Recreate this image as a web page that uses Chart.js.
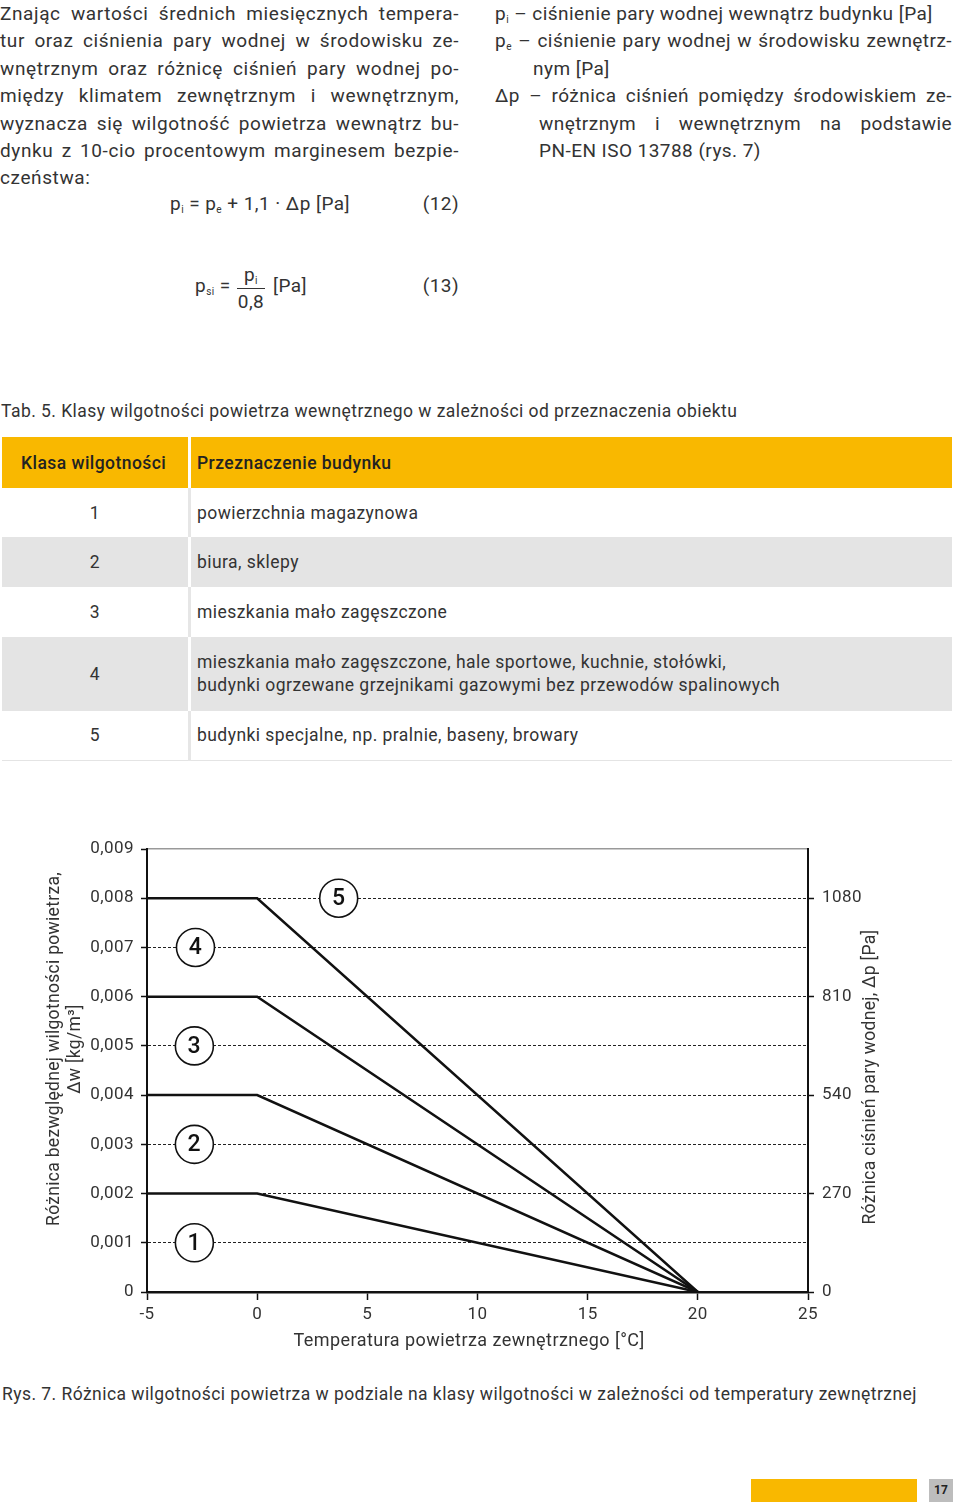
<!DOCTYPE html>
<html lang="pl">
<head>
<meta charset="utf-8">
<title>Rys. 7</title>
<script src="https://cdn.jsdelivr.net/npm/chart.js@4.4.1/dist/chart.umd.min.js"></script>
<style>
  html, body { margin: 0; padding: 0; background: #fff; }
  body { width: 960px; height: 1507px; position: relative; overflow: hidden;
         font-family: Roboto, "Noto Sans", sans-serif; color: #333; letter-spacing: 0.45px; }
  .abs { position: absolute; }
  .para { font-size: 19px; line-height: 27.4px; }
  .top { letter-spacing: 0.6px; }
  .just { text-align: justify; text-align-last: justify; }
  sub { font-size: 10px; vertical-align: -3px; line-height: 0; }
  .cap { font-size: 17.5px; line-height: 20px; }
  table { border-collapse: collapse; width: 950px; font-size: 17.5px; }
  td { padding: 0; vertical-align: middle; }
  td.n { width: 186px; text-align: center; border-right: 3px solid #e6e6e6; }
  td.t { padding-left: 6px; }
  tr.head td { background: #f9b800; color: #222; font-weight: 500; height: 51px; }
  tr.head td.n { border-right-color: #fff; text-align: left; padding-left: 19px; width: 167px; }
  tr.grey td { background: #e4e4e4; }
  tr.grey td.n { border-right-color: #fff; }
  tr.last td { border-bottom: 1px solid #e4e4e4; }
</style>
</head>
<body>

<div class="abs para top" style="left:0;top:0;width:459px;">
  <div class="just">Znając wartości średnich miesięcznych tempera-</div>
  <div class="just">tur oraz ciśnienia pary wodnej w środowisku ze-</div>
  <div class="just">wnętrznym oraz różnicę ciśnień pary wodnej po-</div>
  <div class="just">między klimatem zewnętrznym i wewnętrznym,</div>
  <div class="just">wyznacza się wilgotność powietrza wewnątrz bu-</div>
  <div class="just">dynku z 10-cio procentowym marginesem bezpie-</div>
  <div>czeństwa:</div>
</div>
<div class="abs para" style="left:170px;top:190px;">p<sub>i</sub> = p<sub>e</sub> + 1,1 · Δp [Pa]</div>
<div class="abs para" style="left:400px;top:190px;width:59px;text-align:right;">(12)</div>

<div class="abs para" style="left:495px;top:0;width:457px;">
  <div>p<sub>i</sub> – ciśnienie pary wodnej wewnątrz budynku [Pa]</div>
  <div class="just">p<sub>e</sub> – ciśnienie pary wodnej w środowisku zewnętrz-</div>
  <div style="padding-left:38px;">nym [Pa]</div>
  <div class="just">Δp – różnica ciśnień pomiędzy środowiskiem ze-</div>
  <div class="just" style="margin-left:44px;">wnętrznym i wewnętrznym na podstawie</div>
  <div style="padding-left:44px;">PN-EN ISO 13788 (rys. 7)</div>
</div>

<div class="abs para" style="left:195px;top:272px;">p<sub>si</sub> =</div>
<div class="abs para" style="left:237px;top:261px;width:28px;text-align:center;">p<sub>i</sub></div>
<div class="abs" style="left:237px;top:288px;width:28px;height:1px;background:#333;"></div>
<div class="abs para" style="left:235px;top:288px;width:32px;text-align:center;">0,8</div>
<div class="abs para" style="left:273px;top:272px;">[Pa]</div>
<div class="abs para" style="left:400px;top:272px;width:59px;text-align:right;">(13)</div>

<div class="abs cap" style="left:1px;top:401px;">Tab. 5. Klasy wilgotności powietrza wewnętrznego w zależności od przeznaczenia obiektu</div>

<table class="abs" style="left:2px;top:437px;">
  <tr class="head"><td class="n">Klasa wilgotności</td><td class="t">Przeznaczenie budynku</td></tr>
  <tr style="height:49px;"><td class="n">1</td><td class="t">powierzchnia magazynowa</td></tr>
  <tr class="grey" style="height:50px;"><td class="n">2</td><td class="t">biura, sklepy</td></tr>
  <tr style="height:50px;"><td class="n">3</td><td class="t">mieszkania mało zagęszczone</td></tr>
  <tr class="grey" style="height:74px;"><td class="n">4</td><td class="t" style="line-height:23px;">mieszkania mało zagęszczone, hale sportowe, kuchnie, stołówki,<br>budynki ogrzewane grzejnikami gazowymi bez przewodów spalinowych</td></tr>
  <tr class="last" style="height:49px;"><td class="n">5</td><td class="t">budynki specjalne, np. pralnie, baseny, browary</td></tr>
</table>

<div class="abs" style="left:0;top:820px;width:960px;height:540px;">
  <canvas id="chart" width="960" height="540" style="width:960px;height:540px;"></canvas>
</div>

<div class="abs cap" style="left:2px;top:1384px;">Rys. 7. Różnica wilgotności powietrza w podziale na klasy wilgotności w zależności od temperatury zewnętrznej</div>

<div class="abs" style="left:751px;top:1479px;width:166px;height:23px;background:#f9b800;"></div>
<div class="abs" style="left:929px;top:1479px;width:24px;height:23px;background:#bdbdbd;color:#222;font-size:12px;font-weight:700;line-height:23px;text-align:center;letter-spacing:0;">17</div>

<script>
// temperature [°C] where the class limits bend / end
const temps = [-5, 0, 20];
// upper limits of humidity classes, Δw [kg/m3]
const limit1 = [0.002, 0.002, 0];
const limit2 = [0.004, 0.004, 0];
const limit3 = [0.006, 0.006, 0];
const limit4 = [0.008, 0.008, 0];

// circled class numbers
const classLabels = ['1', '2', '3', '4', '5'];
const labelTemps = [-2.85, -2.85, -2.85, -2.8, 3.7];
const labelDw = [0.001, 0.003, 0.005, 0.007, 0.008];

// axes
const tempTicks = [-5, 0, 5, 10, 15, 20, 25];
const dwTicks = [0, 0.001, 0.002, 0.003, 0.004, 0.005, 0.006, 0.007, 0.008, 0.009];
const dpTicks = [0, 270, 540, 810, 1080];
const dpMax = 1215;

const xTitle = 'Temperatura powietrza zewnętrznego [°C]';
const yTitle = ['Różnica bezwględnej wilgotności powietrza,', 'Δw [kg/m³]'];
const y2Title = 'Różnica ciśnień pary wodnej, Δp [Pa]';

function pts(ys) {
  return temps.map((t, i) => ({ x: t, y: ys[i] }));
}

function limitSet(ys) {
  return {
    type: 'line',
    data: pts(ys),
    borderColor: '#111',
    borderWidth: 2.5,
    pointRadius: 0,
    tension: 0,
    fill: false
  };
}

const markers = {
  type: 'scatter',
  data: labelTemps.map((t, i) => ({ x: t, y: labelDw[i] })),
  pointRadius: 19,
  pointHoverRadius: 19,
  pointBackgroundColor: '#fff',
  pointBorderColor: '#111',
  pointBorderWidth: 1.6
};

const tickFont = { family: 'Roboto', size: 17 };

// numbers inside circles + axis titles
const overlayText = {
  id: 'overlayText',
  afterDatasetsDraw(chart) {
    const ctx = chart.ctx;
    const meta = chart.getDatasetMeta(4);
    ctx.save();
    ctx.font = '500 23px Roboto';
    ctx.fillStyle = '#111';
    ctx.textAlign = 'center';
    ctx.textBaseline = 'middle';
    meta.data.forEach((p, i) => ctx.fillText(classLabels[i], p.x, p.y + 1));
    ctx.restore();
  },
  afterDraw(chart) {
    const ctx = chart.ctx;
    ctx.save();
    ctx.fillStyle = '#333';
    ctx.font = '18px Roboto';
    ctx.letterSpacing = '0.45px';
    ctx.textAlign = 'center';
    ctx.textBaseline = 'middle';
    ctx.fillText(xTitle, 469, 521);

    ctx.font = '17.5px Roboto';
    ctx.letterSpacing = '0.3px';
    ctx.translate(55, 229);
    ctx.rotate(-Math.PI / 2);
    ctx.fillText(yTitle[0], 0, 0);
    ctx.fillText(yTitle[1], 0, 21);
    ctx.restore();

    ctx.save();
    ctx.fillStyle = '#333';
    ctx.font = '17.5px Roboto';
    ctx.letterSpacing = '0.3px';
    ctx.textAlign = 'center';
    ctx.textBaseline = 'middle';
    ctx.translate(871, 257);
    ctx.rotate(-Math.PI / 2);
    ctx.fillText(y2Title, 0, 0);
    ctx.restore();
  }
};

new Chart(document.getElementById('chart').getContext('2d'), {
  data: {
    datasets: [limitSet(limit1), limitSet(limit2), limitSet(limit3), limitSet(limit4), markers]
  },
  options: {
    responsive: false,
    animation: false,
    devicePixelRatio: 1,
    layout: { padding: { top: 29, left: 0, right: 0, bottom: 0 } },
    plugins: { legend: { display: false }, tooltip: { enabled: false } },
    scales: {
      x: {
        type: 'linear',
        position: 'bottom',
        min: -5,
        max: 25,
        afterBuildTicks: s => { s.ticks = tempTicks.map(v => ({ value: v })); },
        ticks: { color: '#333', font: tickFont, padding: 5, callback: v => String(v) },
        grid: { drawOnChartArea: false, tickLength: 8, tickColor: '#111', tickWidth: 1.5 },
        border: { color: '#111', width: 2.5 },
        afterFit: s => { s.height = 68; }
      },
      xTop: {
        type: 'linear',
        position: 'top',
        min: -5,
        max: 25,
        ticks: { display: false },
        grid: { display: false },
        border: { color: '#999', width: 1.5 },
        afterFit: s => { s.height = 0; }
      },
      y: {
        type: 'linear',
        position: 'left',
        min: 0,
        max: 0.009,
        afterBuildTicks: s => { s.ticks = dwTicks.map(v => ({ value: v })); },
        ticks: {
          color: '#333',
          font: tickFont,
          padding: 7,
          callback: v => v === 0 ? '0' : v.toFixed(3).replace('.', ',')
        },
        grid: {
          color: c => (c.tick && c.tick.value > 0 && c.tick.value < 0.0089) ? '#222' : 'rgba(0,0,0,0)',
          lineWidth: 1,
          tickLength: 6,
          tickColor: '#111',
          tickWidth: 1.5
        },
        border: { color: '#111', width: 2, dash: [3, 2] },
        afterFit: s => { s.width = 147; }
      },
      y2: {
        type: 'linear',
        position: 'right',
        min: 0,
        max: dpMax,
        afterBuildTicks: s => { s.ticks = dpTicks.map(v => ({ value: v })); },
        ticks: { color: '#333', font: tickFont, padding: 8, callback: v => String(v) },
        grid: { drawOnChartArea: false, tickLength: 6, tickColor: '#111', tickWidth: 1.5 },
        border: { color: '#111', width: 2 },
        afterFit: s => { s.width = 152; }
      }
    }
  },
  plugins: [overlayText]
});
</script>
</body>
</html>
